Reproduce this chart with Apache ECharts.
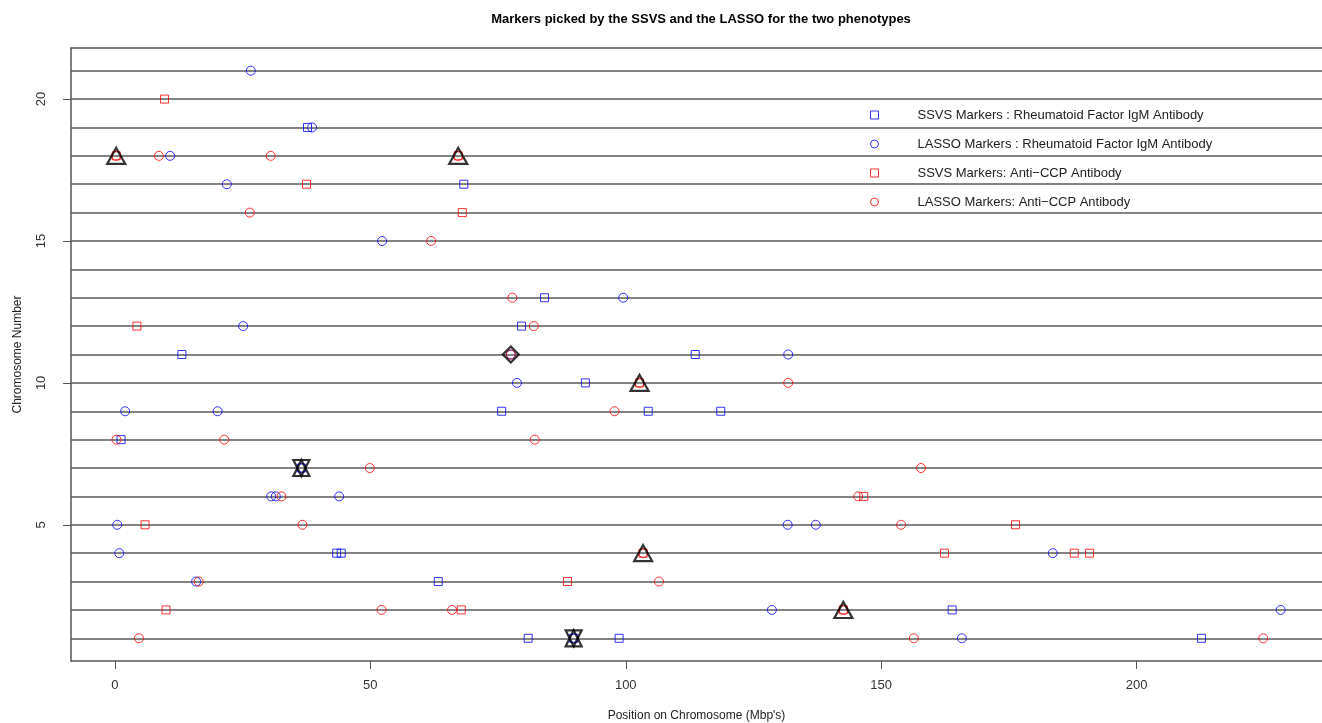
<!DOCTYPE html>
<html>
<head>
<meta charset="utf-8">
<script src="https://cdn.jsdelivr.net/npm/echarts@6/dist/echarts.min.js"></script>
<style>
  html, body { margin: 0; padding: 0; background: #fff; overflow: hidden; }
  #chart { width: 1322px; height: 723px; }
</style>
</head>
<body>
<div id="chart"></div>
<script>
// chromosomes drawn as horizontal guide lines
const chromosomes = [1, 2, 3, 4, 5, 6, 7, 8, 9, 10, 11, 12, 13, 14, 15, 16, 17, 18, 19, 20, 21];
const xTicks = [0, 50, 100, 150, 200];
const yTicks = [5, 10, 15, 20];

// [position (Mbp), chromosome]
const ssvsRF = [
  [37.7, 19], [68.3, 17], [84.1, 13], [79.6, 12], [13.1, 11], [113.6, 11],
  [92.1, 10], [75.7, 9], [104.4, 9], [118.6, 9], [1.2, 8], [36.5, 7],
  [43.4, 4], [44.3, 4], [63.3, 3], [163.9, 2], [80.9, 1], [89.8, 1], [98.7, 1], [212.7, 1]
];
const lassoRF = [
  [26.6, 21], [38.6, 19], [10.8, 18], [21.9, 17], [52.3, 15], [99.5, 13], [25.1, 12],
  [77.5, 11], [131.8, 11], [78.7, 10], [2.0, 9], [20.1, 9], [36.5, 7],
  [30.6, 6], [31.5, 6], [43.9, 6], [0.45, 5], [131.7, 5], [137.2, 5],
  [0.85, 4], [183.6, 4], [15.9, 3], [128.6, 2], [228.2, 2], [89.8, 1], [165.8, 1]
];
const ssvsCCP = [
  [9.7, 20], [0.25, 18], [67.2, 18], [37.5, 17], [68.0, 16], [4.3, 12], [102.7, 10],
  [146.6, 6], [5.9, 5], [176.3, 5], [103.4, 4], [162.4, 4], [187.8, 4], [190.8, 4],
  [88.6, 3], [10.0, 2], [67.8, 2], [142.6, 2]
];
const lassoCCP = [
  [0.25, 18], [8.6, 18], [30.5, 18], [67.2, 18], [26.4, 16], [61.9, 15], [77.8, 13],
  [82.0, 12], [77.5, 11], [102.7, 10], [131.8, 10], [97.8, 9], [0.3, 8], [21.4, 8],
  [82.2, 8], [49.9, 7], [157.8, 7], [32.6, 6], [145.5, 6], [36.7, 5], [153.9, 5],
  [103.4, 4], [16.4, 3], [106.5, 3], [52.2, 2], [66.0, 2], [142.6, 2],
  [4.7, 1], [156.4, 1], [224.8, 1]
];
// highlighted markers (black outlines)
const bothCCP = [[0.25, 18], [67.2, 18], [102.7, 10], [103.4, 4], [142.6, 2]];
const bothRF = [[36.5, 7], [89.8, 1]];
const bothPheno = [[77.5, 11]];

const font = 'Liberation Sans, Arial, Helvetica, sans-serif';
const blue = '#0000ff';
const red = '#ff0000';

function hollow(name, data, symbol, color, size) {
  return {
    name: name,
    type: 'scatter',
    data: data,
    symbol: symbol,
    symbolSize: size,
    itemStyle: { color: 'rgba(0,0,0,0)', borderColor: color, borderWidth: 1 },
    emphasis: { disabled: true },
    z: 3
  };
}

function black(data, symbol, size, rotate) {
  return {
    type: 'scatter',
    data: data,
    symbol: symbol,
    symbolSize: size,
    symbolRotate: rotate || 0,
    itemStyle: { color: 'rgba(0,0,0,0)', borderColor: '#000', borderWidth: 2.2 },
    emphasis: { disabled: true },
    z: 4
  };
}

let myChart = echarts.init(document.getElementById('chart'));

var firstSeries = hollow('SSVS Markers : Rheumatoid Factor IgM Antibody', ssvsRF, 'rect', blue, 8);
// the horizontal chromosome lines
firstSeries.markLine = {
  silent: true,
  symbol: ['none', 'none'],
  label: { show: false },
  lineStyle: { color: '#5a5a5a', width: 1.5, type: 'solid' },
  data: chromosomes.map(c => ({ yAxis: c })),
  z: 1
};

var option = {
  backgroundColor: '#fff',
  animation: false,
  textStyle: { fontFamily: font },
  title: {
    text: 'Markers picked by the SSVS and the LASSO for the two phenotypes',
    left: 696,
    textAlign: 'center',
    top: 8,
    textStyle: { fontSize: 13, fontWeight: 'bold', color: '#000', fontFamily: font }
  },
  legend: {
    orient: 'vertical',
    left: 865,
    top: 102,
    itemWidth: 8,
    itemHeight: 8,
    itemGap: 13,
    selectedMode: false,
    itemStyle: { borderWidth: 1 },
    textStyle: { fontSize: 13, color: '#222', padding: [0, 0, 0, 34], lineHeight: 16, fontFamily: font },
    data: [
      'SSVS Markers : Rheumatoid Factor IgM Antibody',
      'LASSO Markers : Rheumatoid Factor IgM Antibody',
      'SSVS Markers: Anti\u2212CCP Antibody',
      'LASSO Markers: Anti\u2212CCP Antibody'
    ]
  },
  grid: { left: 71, right: 0, top: 48, bottom: 62, containLabel: false, outerBoundsMode: 'none' },
  xAxis: [{
    type: 'value',
    min: -8.6,
    max: 236.3,
    name: "Position on Chromosome (Mbp's)",
    nameLocation: 'middle',
    nameGap: 49,
    nameTextStyle: { fontSize: 12, color: '#222' },
    splitLine: { show: false },
    axisLine: { show: true, onZero: false, lineStyle: { color: '#555', width: 1.5 } },
    axisTick: { show: true, length: 8, customValues: xTicks, lineStyle: { color: '#555' } },
    axisLabel: { customValues: xTicks, fontSize: 13, color: '#333', margin: 18 }
  }, {
    type: 'value',
    position: 'top',
    min: -8.6,
    max: 236.3,
    splitLine: { show: false },
    axisLine: { show: true, onZero: false, lineStyle: { color: '#555', width: 1.5 } },
    axisTick: { show: false },
    axisLabel: { show: false }
  }],
  yAxis: {
    type: 'value',
    min: 0.2,
    max: 21.8,
    name: 'Chromosome Number',
    nameLocation: 'middle',
    nameGap: 47,
    nameRotate: 90,
    nameTextStyle: { fontSize: 12, color: '#222' },
    splitLine: { show: false },
    axisLine: { show: true, onZero: false, lineStyle: { color: '#555', width: 1.5 } },
    axisTick: { show: true, length: 8, customValues: yTicks, lineStyle: { color: '#555' } },
    axisLabel: { customValues: yTicks, fontSize: 13, color: '#333', rotate: 90, margin: 23 }
  },
  series: [
    firstSeries,
    hollow('LASSO Markers : Rheumatoid Factor IgM Antibody', lassoRF, 'circle', blue, 9),
    hollow('SSVS Markers: Anti\u2212CCP Antibody', ssvsCCP, 'rect', red, 8),
    hollow('LASSO Markers: Anti\u2212CCP Antibody', lassoCCP, 'circle', red, 9),
    black(bothCCP, 'triangle', [18, 16]),
    black(bothRF, 'triangle', [16, 16]),
    black(bothRF, 'triangle', [16, 16], 180),
    black(bothPheno, 'diamond', [16, 16])
  ]
};

window.onresize = myChart.resize;
myChart.setOption(option);
</script>
</body>
</html>
